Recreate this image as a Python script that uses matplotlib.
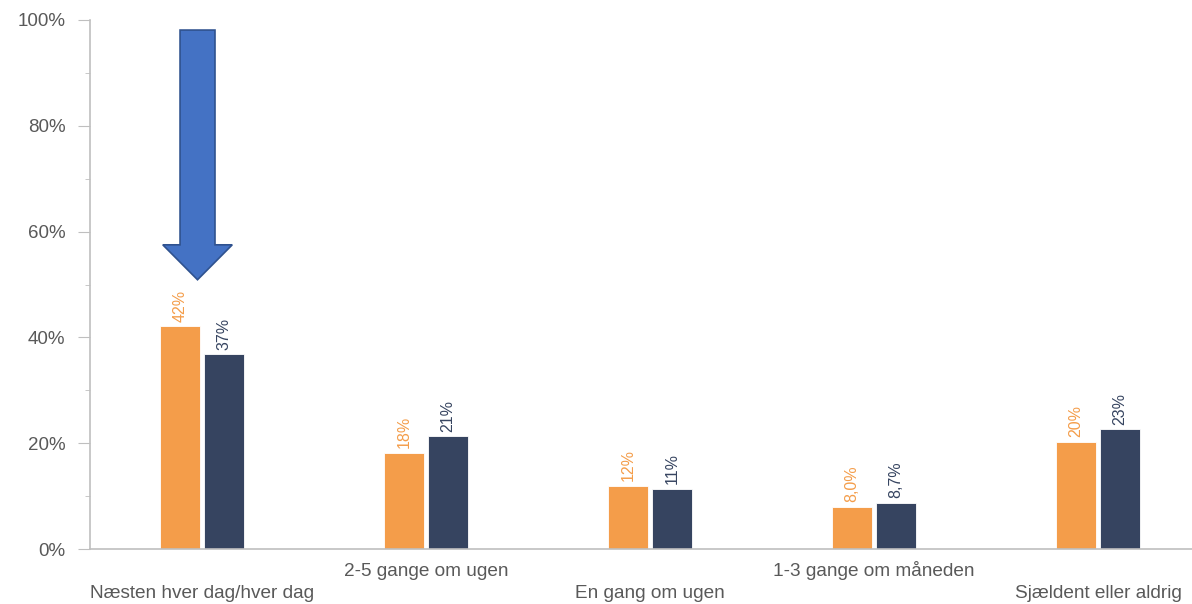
import matplotlib.pyplot as plt
from matplotlib.ticker import MultipleLocator, PercentFormatter
from matplotlib.patches import FancyArrow

# Data
categories = ['Næsten hver dag/hver dag', '2-5 gange om ugen', 'En gang om ugen',
              '1-3 gange om måneden', 'Sjældent eller aldrig']
orange_vals = [42.1, 18.1, 12.0, 8.0, 20.2]
navy_vals = [36.8, 21.3, 11.3, 8.7, 22.6]

orange = '#F49D4A'
navy = '#364460'
grey_txt = '#595959'
spine_col = '#BFBFBF'

plt.rcParams['font.family'] = ['Liberation Sans', 'DejaVu Sans']

fig = plt.figure(figsize=(11.92, 6.04), dpi=100)
ax = fig.add_axes([90 / 1192, 1 - 549 / 604, 1120 / 1192, 529 / 604])

w = 0.18
gap = 0.008
x = list(range(len(categories)))
xo = [i - w / 2 - gap for i in x]
xn = [i + w / 2 + gap for i in x]
ax.bar(xo, orange_vals, width=w, color=orange, edgecolor='white', linewidth=0.6)
ax.bar(xn, navy_vals, width=w, color=navy, edgecolor='white', linewidth=0.6)


def fmt(v):
    if v < 10:
        return f'{v:.1f}%'.replace('.', ',')
    return f'{round(v)}%'


for xi, v in zip(xo, orange_vals):
    ax.text(xi, v + 0.9, fmt(v), rotation=90, ha='center', va='bottom',
            color=orange, fontsize=11.5)
for xi, v in zip(xn, navy_vals):
    ax.text(xi, v + 0.9, fmt(v), rotation=90, ha='center', va='bottom',
            color=navy, fontsize=11.5)

# blaa pil mod foerste gruppe
ax.add_patch(FancyArrow(-0.02, 98.1, 0, -47.2, width=0.156, head_width=0.31,
                        head_length=6.6, length_includes_head=True,
                        facecolor='#4472C4', edgecolor='#2F528F', linewidth=1.2,
                        zorder=5))

ax.set_xlim(-0.5, 4.5)
ax.set_ylim(0, 100)
ax.yaxis.set_major_locator(MultipleLocator(20))
ax.yaxis.set_minor_locator(MultipleLocator(10))
ax.yaxis.set_major_formatter(PercentFormatter(decimals=0))
ax.tick_params(axis='y', which='major', length=8.6, pad=9, color=spine_col,
               labelcolor=grey_txt, labelsize=13.5)
ax.tick_params(axis='y', which='minor', length=3.6, color=spine_col)

ax.set_xticks([])
for i, c in enumerate(categories):
    yoff = -45 if i % 2 == 0 else -22
    ax.annotate(c, (i, 0), xytext=(0, yoff), textcoords='offset pixels',
                ha='center', va='center', color=grey_txt, fontsize=13.7,
                annotation_clip=False)

for s in ['top', 'right']:
    ax.spines[s].set_visible(False)
ax.spines['left'].set_color(spine_col)
ax.spines['bottom'].set_color(spine_col)
ax.spines['left'].set_linewidth(1.2)
ax.spines['bottom'].set_linewidth(1.2)

fig.savefig('out.png', dpi=100)
